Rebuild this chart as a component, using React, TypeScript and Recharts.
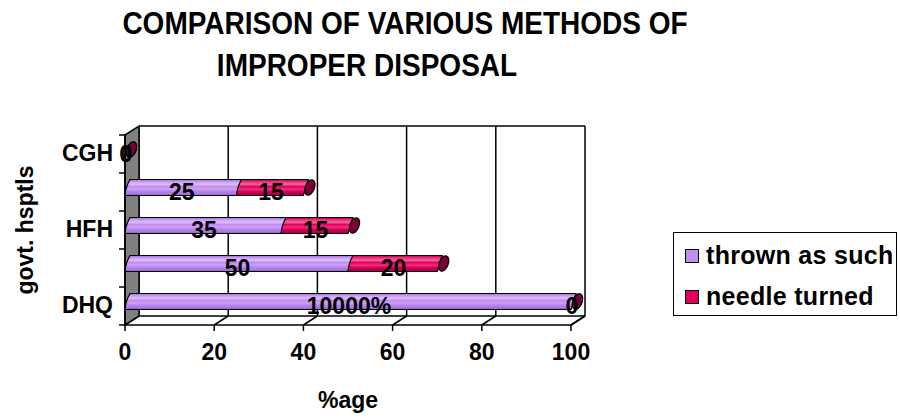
import React from "react";
import {
  BarChart,
  Bar,
  XAxis,
  YAxis,
  CartesianGrid,
  ReferenceArea,
  LabelList,
  Legend,
} from "recharts";

const hospitals = ["CGH", "", "HFH", " ", "DHQ"];
const seriesNames = ["thrown as such", "needle turned"];
const thrownAsSuch = [0, 25, 35, 50, 100];
const needleTurned = [0, 15, 15, 20, 0];
const thrownLabels = ["0", "25", "35", "50", "10000%"];
const needleLabels = ["0", "15", "15", "20", "0"];
const xTicks = [0, 20, 40, 60, 80, 100];

const data = hospitals.map((name, i) => ({
  name,
  thrown: thrownAsSuch[i],
  needle: needleTurned[i],
}));

const FONT = "'Liberation Sans', Arial, Helvetica, sans-serif";
// 3D depth of the box (front plane -> back wall)
const DX = 14;
const DY = -9;
const BAR_H = 16;
const LIFT = 4.5;
const SLANT = 5;

const PURPLE = "#C090F0";
const MAGENTA = "#E2005E";

const makeBarShape = (gradId: string, capColor: string) => (props: any) => {
  const { x, y, width, height } = props;
  const cy = y + height / 2 - LIFT;
  const top = cy - BAR_H / 2;
  const bot = cy + BAR_H / 2;
  const x1 = x + Math.max(width, 0);
  const capCx = x1 + SLANT / 2 + 4;
  return (
    <g>
      {width > 0.5 && (
        <path
          d={`M${x},${bot} Q${x + 0.5},${cy} ${x + SLANT},${top} L${x1 + SLANT},${top} L${x1},${bot} Z`}
          fill={`url(#${gradId})`}
          stroke="#000"
          strokeWidth={1.2}
        />
      )}
      <ellipse
        cx={capCx}
        cy={cy}
        rx={4.5}
        ry={BAR_H / 2}
        transform={`rotate(22 ${capCx} ${cy})`}
        fill={capColor}
        stroke="#000"
        strokeWidth={1.2}
      />
    </g>
  );
};

const renderValueLabel = (texts: string[]) => (props: any) => {
  const { x, y, width, height, index } = props;
  return (
    <text
      x={x + width / 2 + 1}
      y={y + height / 2 + 8}
      textAnchor="middle"
      fontFamily={FONT}
      fontWeight={700}
      fontSize={23}
      fill="#000"
    >
      {texts[index]}
    </text>
  );
};

const Frame = (props: any) => {
  const { x, y, width, height } = props;
  const n = hospitals.length;
  const b = y + height;
  return (
    <g>
      <line x1={x + DX} y1={y + DY} x2={x + width + DX} y2={y + DY} stroke="#000" strokeWidth={1.5} />
      <line x1={x + DX} y1={b + DY} x2={x + width + DX} y2={b + DY} stroke="#000" strokeWidth={1.5} />
      <line x1={x + width} y1={b} x2={x + width + DX} y2={b + DY} stroke="#000" strokeWidth={1.5} />
      <polygon
        points={`${x},${y} ${x + DX},${y + DY} ${x + DX},${b + DY} ${x},${b}`}
        fill="#808080"
        stroke="#000"
        strokeWidth={1.5}
      />
      {hospitals.concat([""]).map((_, i) => (
        <line
          key={i}
          x1={x - 6}
          y1={y + (i * height) / n}
          x2={x}
          y2={y + (i * height) / n}
          stroke="#000"
          strokeWidth={1.5}
        />
      ))}
    </g>
  );
};

const gridLine = (props: any) => {
  const { x1, y1, x2, y2 } = props;
  return (
    <g key={`g-${x1}`}>
      <line x1={x1 + DX} y1={y1 + DY} x2={x2 + DX} y2={y2 + DY} stroke="#000" strokeWidth={1.5} />
      <line x1={x1} y1={y2} x2={x1 + DX} y2={y2 + DY} stroke="#000" strokeWidth={1.5} />
    </g>
  );
};

const XTick = ({ x, y, payload }: any) => (
  <text x={x} y={y + 27} textAnchor="middle" fontFamily={FONT} fontWeight={700} fontSize={23} fill="#000">
    {payload.value}
  </text>
);

const YTick = ({ x, y, payload }: any) => (
  <text x={x} y={y + 7} textAnchor="end" fontFamily={FONT} fontWeight={700} fontSize={23} fill="#000">
    {payload.value}
  </text>
);

const YLabel = (props: any) => {
  const vb = props.viewBox;
  const cy = vb.y + vb.height / 2;
  return (
    <text
      x={33}
      y={cy}
      transform={`rotate(-90 33 ${cy})`}
      textAnchor="middle"
      fontFamily={FONT}
      fontWeight={700}
      fontSize={23}
      fill="#000"
    >
      govt. hsptls
    </text>
  );
};

const LegendBox = ({ payload }: any) => {
  const items = [...(payload || [])].sort(
    (a: any, b: any) => seriesNames.indexOf(a.value) - seriesNames.indexOf(b.value)
  );
  return (
    <div
      style={{
        boxSizing: "border-box",
        width: "100%",
        height: 84,
        border: "1.5px solid #000",
        background: "#fff",
        padding: "2px 0 0 11px",
        fontFamily: FONT,
        fontWeight: 700,
        fontSize: 25,
      }}
    >
      {items.map((p: any) => (
        <div key={p.value} style={{ display: "flex", alignItems: "center", height: 41, whiteSpace: "nowrap" }}>
          <span
            style={{
              display: "inline-block",
              width: 12,
              height: 12,
              background: p.color,
              border: "1.5px solid #000",
              marginRight: 7,
            }}
          />
          <span style={{ letterSpacing: 0.3 }}>{p.value}</span>
        </div>
      ))}
    </div>
  );
};

const titleStyle: React.CSSProperties = {
  position: "absolute",
  transform: "translateX(-50%) scaleY(1.15)",
  transformOrigin: "50% 0",
  whiteSpace: "nowrap",
  fontFamily: FONT,
  fontWeight: 700,
  fontSize: 28,
};

export default function App() {
  return (
    <div style={{ position: "absolute", left: 0, top: 0, width: 900, height: 420, background: "#fff" }}>
      <div style={{ ...titleStyle, left: 405, top: 5 }}>COMPARISON OF VARIOUS METHODS OF</div>
      <div style={{ ...titleStyle, left: 367, top: 47 }}>IMPROPER DISPOSAL</div>
      <div style={{ position: "absolute", left: 0, top: 0 }}>
        <BarChart
          width={900}
          height={420}
          data={data}
          layout="vertical"
          margin={{ top: 135, right: 105, bottom: 0, left: 0 }}
        >
          <defs>
            <linearGradient id="gradThrown" x1="0" y1="0" x2="0" y2="1">
              <stop offset="0" stopColor="#9868CC" />
              <stop offset="0.14" stopColor="#CA9CF8" />
              <stop offset="0.3" stopColor="#DCBEFC" />
              <stop offset="0.44" stopColor="#C08CF0" />
              <stop offset="0.6" stopColor="#CCA0F8" />
              <stop offset="0.74" stopColor="#B884EA" />
              <stop offset="0.9" stopColor="#A676DC" />
              <stop offset="1" stopColor="#8C5CC2" />
            </linearGradient>
            <linearGradient id="gradNeedle" x1="0" y1="0" x2="0" y2="1">
              <stop offset="0" stopColor="#A8004A" />
              <stop offset="0.14" stopColor="#EE2C78" />
              <stop offset="0.3" stopColor="#F6649C" />
              <stop offset="0.44" stopColor="#E2005E" />
              <stop offset="0.6" stopColor="#EE3078" />
              <stop offset="0.76" stopColor="#D80058" />
              <stop offset="1" stopColor="#9C0044" />
            </linearGradient>
          </defs>
          <CartesianGrid horizontal={false} vertical={gridLine} />
          <ReferenceArea x1={0} x2={100} shape={Frame} />
          <XAxis
            type="number"
            domain={[0, 100]}
            ticks={xTicks}
            height={95}
            axisLine={{ stroke: "#000", strokeWidth: 1.5 }}
            tickLine={{ stroke: "#000", strokeWidth: 1.5 }}
            tick={<XTick />}
            label={{
              value: "%age",
              position: "insideBottom",
              offset: 12,
              style: { fontFamily: FONT, fontWeight: 700, fontSize: 23, fill: "#000" },
            }}
          />
          <YAxis
            type="category"
            dataKey="name"
            width={125}
            interval={0}
            tickSize={0}
            tickMargin={12}
            axisLine={{ stroke: "#000", strokeWidth: 1.5 }}
            tickLine={false}
            tick={<YTick />}
            label={YLabel}
          />
          <Legend
            layout="vertical"
            align="right"
            verticalAlign="middle"
            wrapperStyle={{ left: 673, top: 232, width: 224, height: 84 }}
            content={<LegendBox />}
          />
          <Bar
            dataKey="thrown"
            name={seriesNames[0]}
            stackId="a"
            fill={PURPLE}
            barSize={16}
            isAnimationActive={false}
            shape={makeBarShape("gradThrown", "#6A3A98")}
          >
            <LabelList dataKey="thrown" content={renderValueLabel(thrownLabels)} />
          </Bar>
          <Bar
            dataKey="needle"
            name={seriesNames[1]}
            stackId="a"
            fill={MAGENTA}
            barSize={16}
            isAnimationActive={false}
            shape={makeBarShape("gradNeedle", "#7A0038")}
          >
            <LabelList dataKey="needle" content={renderValueLabel(needleLabels)} />
          </Bar>
        </BarChart>
      </div>
    </div>
  );
}
